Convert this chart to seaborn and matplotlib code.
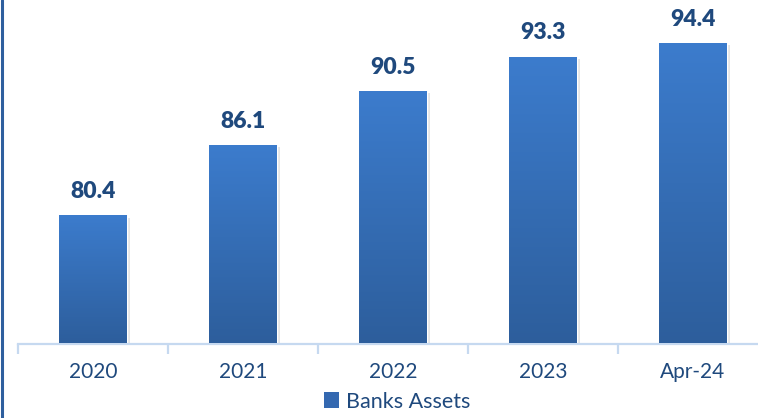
import numpy as np
import pandas as pd
import matplotlib
matplotlib.use("Agg")
import matplotlib.pyplot as plt
import seaborn as sns
from matplotlib.patches import Patch
from matplotlib.lines import Line2D
from matplotlib.colors import LinearSegmentedColormap
import matplotlib.patheffects as pe

periods = ["2020", "2021", "2022", "2023", "Apr-24"]
banks_assets = [80.4, 86.1, 90.5, 93.3, 94.4]

sns.set_theme(style="white")
plt.rcParams["font.family"] = ["Lato", "DejaVu Sans"]

label_color = "#1f497d"
top_color = "#3c7ccd"
bottom_color = "#2d5e9c"
axis_color = "#c6d9f0"

df = pd.DataFrame({"period": periods, "value": banks_assets})

fig = plt.figure(figsize=(7.58, 4.18), dpi=100)
ax = fig.add_axes([18 / 758, (418 - 343.5) / 418, 750 / 758, 343.5 / 418])

sns.barplot(data=df, x="period", y="value", color=top_color, width=0.453,
            saturation=1, ax=ax, zorder=2)

ax.set_ylim(70, 97.9)
ax.set_xlim(-0.5, len(periods) - 0.5)

# vertical gradient fill on every bar, with a soft drop shadow
cmap = LinearSegmentedColormap.from_list("bar", [bottom_color, top_color])
grad = np.linspace(0, 1, 256).reshape(-1, 1)
for bar in ax.patches:
    x0, y0 = bar.get_x(), 70
    w, h = bar.get_width(), bar.get_height()
    bar.set_path_effects([pe.SimplePatchShadow(offset=(2.5, -1.5), shadow_rgbFace="#8a8a8a", alpha=0.22),
                          pe.Normal()])
    im = ax.imshow(grad, cmap=cmap, origin="lower", aspect="auto",
                   extent=(x0, x0 + w, y0, h), zorder=3)
    im.set_clip_path(bar)

for i, v in enumerate(banks_assets):
    ax.text(i, v + 1.95, f"{v:.1f}", ha="center", va="center",
            fontsize=16.5, fontweight="heavy", color=label_color, zorder=4)

for side in ["top", "right", "left"]:
    ax.spines[side].set_visible(False)
ax.spines["bottom"].set_color(axis_color)
ax.spines["bottom"].set_linewidth(1.6)
ax.set_yticks([])
ax.set_xlabel("")
ax.set_ylabel("")
ax.set_xticks(range(len(periods)))
ax.set_xticklabels(periods)
ax.set_xticks(np.arange(-0.5, len(periods), 1.0), minor=True)
ax.tick_params(axis="x", which="major", length=0, pad=13, labelsize=15, labelcolor=label_color)
ax.tick_params(axis="x", which="minor", length=7, width=1.6, color=axis_color, direction="out", bottom=True)

# dark frame line down the left edge
fig.add_artist(Line2D([1.5 / 758, 1.5 / 758], [0, 1], color="#2e5f9e", lw=2.2,
                      transform=fig.transFigure))

handle = Patch(facecolor="#3468b0", edgecolor="none")
fig.legend([handle], ["Banks Assets"], loc="center", bbox_to_anchor=(397 / 758, (418 - 401.5) / 418),
           frameon=False, fontsize=15.5, handlelength=0.7, handleheight=0.7,
           handletextpad=0.3, labelcolor=label_color, borderpad=0)

fig.savefig("out.png", dpi=100)
